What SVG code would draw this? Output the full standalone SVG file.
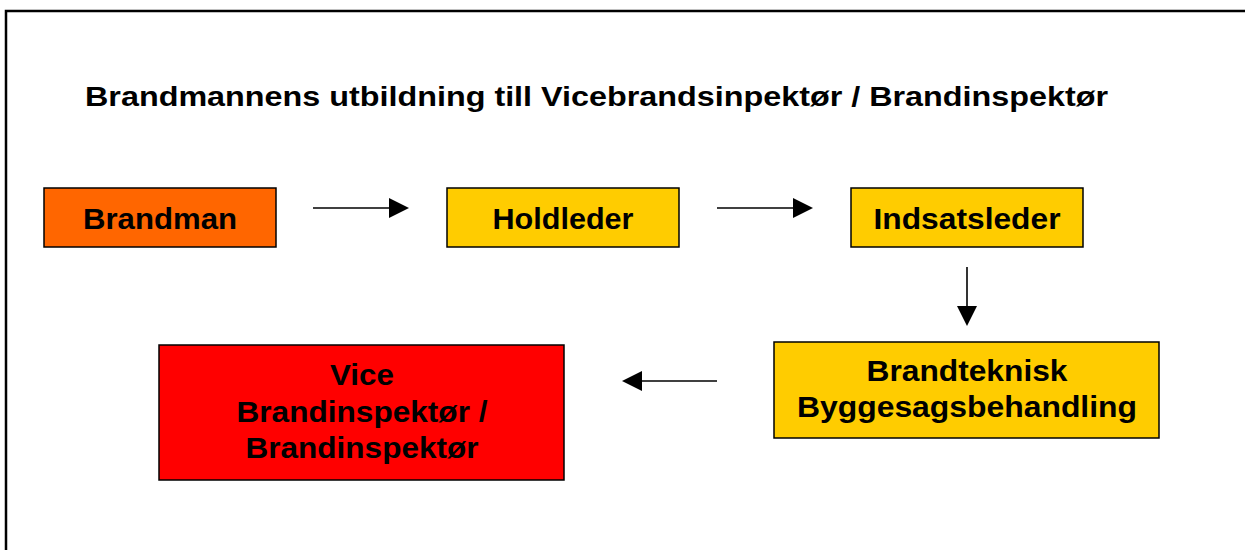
<svg xmlns="http://www.w3.org/2000/svg" width="1245" height="550" viewBox="0 0 1245 550">
  <style>
    .box { stroke: #000; stroke-width: 1.5; }
    .t { font-family: "Liberation Sans", Arial, sans-serif; font-weight: bold; font-size: 30px; fill: #000; text-anchor: middle; }
    .title { font-family: "Liberation Sans", Arial, sans-serif; font-weight: bold; font-size: 28px; fill: #000; }
    .conn { stroke: #000; stroke-width: 1.6; fill: none; }
  </style>
  <defs>
    <marker id="ah" markerUnits="userSpaceOnUse" markerWidth="20" markerHeight="20" viewBox="0 0 20 20" refX="0" refY="10" orient="auto">
      <path d="M0,0 L20,10 L0,20 Z" fill="#000"/>
    </marker>
  </defs>
  <rect x="0" y="0" width="1245" height="550" fill="#fff"/>
  <rect x="6" y="11" width="1300" height="700" fill="none" stroke="#000" stroke-width="2.5"/>
  <text class="title" x="85" y="106" textLength="1023" lengthAdjust="spacingAndGlyphs">Brandmannens utbildning till Vicebrandsinpektør / Brandinspektør</text>

  <g id="connectors">
    <line class="conn" x1="313" y1="208" x2="389" y2="208" marker-end="url(#ah)"/>
    <line class="conn" x1="717" y1="208" x2="793" y2="208" marker-end="url(#ah)"/>
    <line class="conn" x1="967" y1="267" x2="967" y2="306" marker-end="url(#ah)"/>
    <line class="conn" x1="717" y1="381" x2="642" y2="381" marker-end="url(#ah)"/>
  </g>

  <g id="brandman">
    <rect class="box" x="44" y="188" width="232" height="59" fill="#FF6600"/>
    <text class="t" x="160" y="229" textLength="154" lengthAdjust="spacingAndGlyphs">Brandman</text>
  </g>
  <g id="holdleder">
    <rect class="box" x="447" y="188" width="232" height="59" fill="#FFCC00"/>
    <text class="t" x="563" y="229" textLength="141" lengthAdjust="spacingAndGlyphs">Holdleder</text>
  </g>
  <g id="indsatsleder">
    <rect class="box" x="851" y="188" width="232" height="59" fill="#FFCC00"/>
    <text class="t" x="967" y="229" textLength="187" lengthAdjust="spacingAndGlyphs">Indsatsleder</text>
  </g>
  <g id="brandteknisk">
    <rect class="box" x="774" y="342" width="385" height="96" fill="#FFCC00"/>
    <text class="t" x="967" y="381" textLength="201" lengthAdjust="spacingAndGlyphs">Brandteknisk</text>
    <text class="t" x="967" y="417" textLength="340" lengthAdjust="spacingAndGlyphs">Byggesagsbehandling</text>
  </g>
  <g id="vice">
    <rect class="box" x="159" y="345" width="405" height="135" fill="#FF0000"/>
    <text class="t" x="362" y="385" textLength="64" lengthAdjust="spacingAndGlyphs">Vice</text>
    <text class="t" x="362" y="422" textLength="251" lengthAdjust="spacingAndGlyphs">Brandinspektør /</text>
    <text class="t" x="362" y="458" textLength="233" lengthAdjust="spacingAndGlyphs">Brandinspektør</text>
  </g>
</svg>
